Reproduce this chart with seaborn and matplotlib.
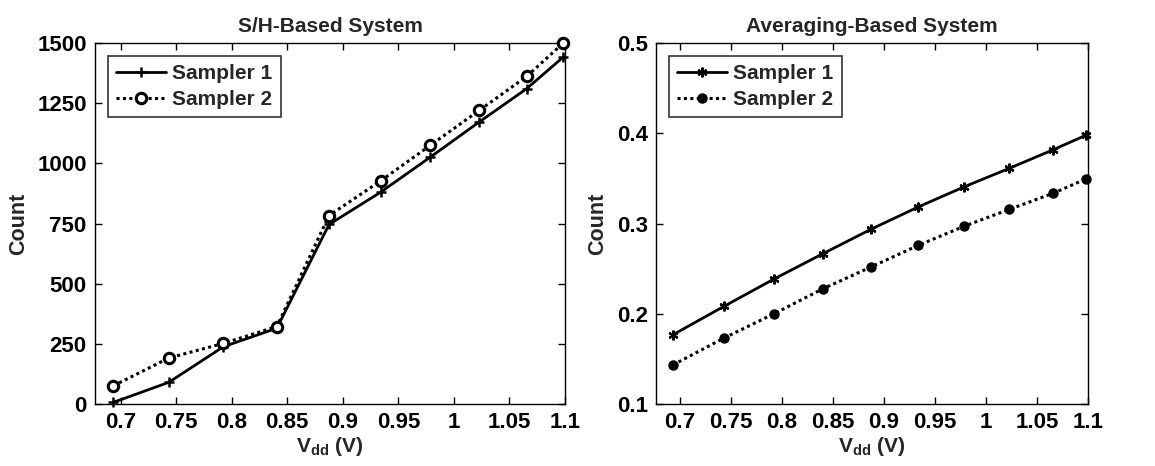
import matplotlib
matplotlib.use("Agg")
import matplotlib.pyplot as plt
import seaborn as sns
import pandas as pd
from matplotlib.ticker import FixedLocator

vdd = [0.6935, 0.7433, 0.7925, 0.8406, 0.8876, 0.9340, 0.9788, 1.0228, 1.0654, 1.0985]
sh_sampler1 = [7, 90, 238, 315, 746, 880, 1026, 1172, 1310, 1442]
sh_sampler2 = [76, 191, 252, 322, 783, 927, 1075, 1220, 1361, 1500]
avg_sampler1 = [0.1767, 0.2081, 0.2385, 0.2667, 0.2937, 0.3185, 0.3407, 0.3611, 0.3815, 0.3981]
avg_sampler2 = [0.1433, 0.1730, 0.2000, 0.2278, 0.2519, 0.2759, 0.2970, 0.3156, 0.3333, 0.3496]
xticks = [0.7, 0.75, 0.8, 0.85, 0.9, 0.95, 1.0, 1.05, 1.1]
xticklabels = ["0.7", "0.75", "0.8", "0.85", "0.9", "0.95", "1", "1.05", "1.1"]
sh_yticks = [0, 250, 500, 750, 1000, 1250, 1500]
avg_yticks = [0.1, 0.2, 0.3, 0.4, 0.5]
avg_yticklabels = ["0.1", "0.2", "0.3", "0.4", "0.5"]
titles = ["S/H-Based System", "Averaging-Based System"]
labels = ["Sampler 1", "Sampler 2"]

sns.set_theme(style="white")
plt.rcParams['font.family'] = ['Liberation Sans', 'DejaVu Sans']
plt.rcParams['font.weight'] = 'bold'
plt.rcParams['mathtext.fontset'] = 'custom'
plt.rcParams['mathtext.rm'] = 'Liberation Sans:bold'
plt.rcParams['mathtext.bf'] = 'Liberation Sans:bold'
plt.rcParams['mathtext.it'] = 'Liberation Sans:bold'
plt.rcParams['mathtext.default'] = 'bf'

fig = plt.figure(figsize=(11.55, 4.66), dpi=100)
ax1 = fig.add_axes([0.0823, 0.133, 0.4069, 0.7747])
ax2 = fig.add_axes([0.568, 0.133, 0.374, 0.7747])

df_sh = pd.DataFrame({"vdd": vdd, "s1": sh_sampler1, "s2": sh_sampler2})
df_avg = pd.DataFrame({"vdd": vdd, "s1": avg_sampler1, "s2": avg_sampler2})

dotted = (0, (1, 1.1))

sns.lineplot(data=df_sh, x="vdd", y="s1", ax=ax1, color="black", linewidth=2,
             linestyle="-", marker="+", markersize=7.5, markeredgewidth=1.8,
             markeredgecolor="black", label=labels[0], clip_on=False, zorder=3)
sns.lineplot(data=df_sh, x="vdd", y="s2", ax=ax1, color="black", linewidth=2.2,
             linestyle=dotted, marker="o", markersize=7.5, markerfacecolor="white",
             markeredgecolor="black", markeredgewidth=2.2, label=labels[1],
             clip_on=False, zorder=3)

sns.lineplot(data=df_avg, x="vdd", y="s1", ax=ax2, color="black", linewidth=2,
             linestyle="-", marker=(6, 2, 0), markersize=7, markeredgewidth=1.6,
             markeredgecolor="black", label=labels[0], clip_on=False, zorder=3)
sns.lineplot(data=df_avg, x="vdd", y="s2", ax=ax2, color="black", linewidth=2.2,
             linestyle=dotted, marker="o", markersize=6.5, markerfacecolor="black",
             markeredgecolor="black", markeredgewidth=1, label=labels[1],
             clip_on=False, zorder=3)

for ax, title in zip([ax1, ax2], titles):
    ax.set_xlim(0.677, 1.1)
    ax.xaxis.set_major_locator(FixedLocator(xticks))
    ax.set_xticklabels(xticklabels)
    ax.set_title(title, fontsize=15, fontweight='bold', pad=8)
    ax.set_xlabel("V$_{dd}$ (V)", fontsize=15, fontweight='bold', labelpad=1)
    ax.set_ylabel("Count", fontsize=15.5, fontweight='bold', labelpad=6)
    ax.tick_params(direction='in', length=5, width=1, top=True, right=True,
                   bottom=True, left=True, labelsize=16, colors='black', pad=6)
    for lbl in ax.get_xticklabels() + ax.get_yticklabels():
        lbl.set_fontweight('bold')
    for sp in ax.spines.values():
        sp.set_color('black')
        sp.set_linewidth(1)
        sp.set_zorder(2)
    leg = ax.legend(loc='upper left', fontsize=15, frameon=True, fancybox=False,
                    edgecolor='black', handlelength=2.4, handletextpad=0.3,
                    borderpad=0.4, labelspacing=0.35, borderaxespad=0.6)
    leg.get_frame().set_linewidth(1.2)
    leg.set_zorder(5)
    for t in leg.get_texts():
        t.set_fontweight('bold')

ax1.set_ylim(0, 1500)
ax1.yaxis.set_major_locator(FixedLocator(sh_yticks))
ax2.set_ylim(0.1, 0.5)
ax2.yaxis.set_major_locator(FixedLocator(avg_yticks))
ax2.set_yticklabels(avg_yticklabels)
for lbl in ax2.get_yticklabels() + ax1.get_yticklabels():
    lbl.set_fontweight('bold')

fig.savefig("out.png", dpi=100, facecolor='white')
